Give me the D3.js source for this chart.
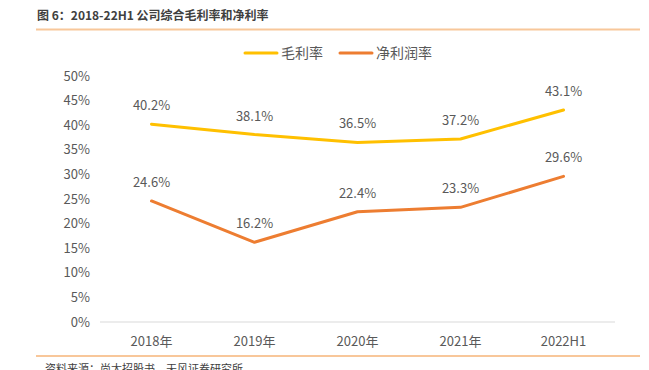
<!DOCTYPE html>
<html>
<head>
<meta charset="utf-8">
<script src="https://cdn.jsdelivr.net/npm/d3@7"></script>
<style>
  body { margin: 0; background: #fff; }
  svg { display: block; font-family: "Noto Sans CJK SC", "Noto Sans", sans-serif; }
</style>
</head>
<body>
<div class="chart"></div>
<script>
var categories = ["2018年", "2019年", "2020年", "2021年", "2022H1"];
var grossMargin = [40.2, 38.1, 36.5, 37.2, 43.1];
var netMargin = [24.6, 16.2, 22.4, 23.3, 29.6];
var yTicks = [0, 5, 10, 15, 20, 25, 30, 35, 40, 45, 50];
var seriesNames = ["毛利率", "净利润率"];

var width = 649, height = 370;
var colors = ["#FFC000", "#ED7D31"];

var svg = d3.select(".chart").append("svg")
    .attr("width", width)
    .attr("height", height);

// title and rules
svg.append("text")
    .attr("x", 37).attr("y", 20)
    .attr("font-size", 12).attr("font-weight", "bold")
    .attr("fill", "#404040")
    .text("图 6：2018-22H1 公司综合毛利率和净利率");

svg.append("line")
    .attr("x1", 36).attr("x2", 640).attr("y1", 29.5).attr("y2", 29.5)
    .attr("stroke", "#F8C79A").attr("stroke-width", 2);

svg.append("line")
    .attr("x1", 36).attr("x2", 640).attr("y1", 356).attr("y2", 356)
    .attr("stroke", "#F8C79A").attr("stroke-width", 2);

svg.append("text")
    .attr("x", 45).attr("y", 373)
    .attr("font-size", 11).attr("fill", "#404040")
    .text("资料来源：尚太招股书，天风证券研究所");

var x = d3.scaleBand().domain(categories).range([100, 615]);
var y = d3.scaleLinear().domain([0, 50]).range([322, 76]);

// y tick labels
svg.append("g").selectAll("text")
    .data(yTicks)
    .enter().append("text")
    .attr("x", 90)
    .attr("y", function(d) { return y(d); })
    .attr("dy", "0.35em")
    .attr("text-anchor", "end")
    .attr("font-size", 13)
    .attr("fill", "#595959")
    .text(function(d) { return d + "%"; });

// baseline
svg.append("line")
    .attr("x1", 100).attr("x2", 615)
    .attr("y1", y(0)).attr("y2", y(0))
    .attr("stroke", "#D9D9D9").attr("stroke-width", 1);

// x labels
svg.append("g").selectAll("text")
    .data(categories)
    .enter().append("text")
    .attr("x", function(d) { return x(d) + x.bandwidth() / 2; })
    .attr("y", 346)
    .attr("text-anchor", "middle")
    .attr("font-size", 13)
    .attr("fill", "#595959")
    .text(function(d) { return d; });

var line = d3.line()
    .x(function(d, i) { return x(categories[i]) + x.bandwidth() / 2; })
    .y(function(d) { return y(d); });

[grossMargin, netMargin].forEach(function(values, s) {
    svg.append("path")
        .datum(values)
        .attr("d", line)
        .attr("fill", "none")
        .attr("stroke", colors[s])
        .attr("stroke-width", 3)
        .attr("stroke-linecap", "round")
        .attr("stroke-linejoin", "round");

    svg.append("g").selectAll("text")
        .data(values)
        .enter().append("text")
        .attr("x", function(d, i) { return x(categories[i]) + x.bandwidth() / 2; })
        .attr("y", function(d) { return y(d) - 14; })
        .attr("text-anchor", "middle")
        .attr("font-size", 13)
        .attr("fill", "#595959")
        .text(function(d) { return d.toFixed(1) + "%"; });
});

// legend
var legendX = [245, 340];
seriesNames.forEach(function(name, s) {
    svg.append("line")
        .attr("x1", legendX[s]).attr("x2", legendX[s] + 32)
        .attr("y1", 53).attr("y2", 53)
        .attr("stroke", colors[s]).attr("stroke-width", 3)
        .attr("stroke-linecap", "round");
    svg.append("text")
        .attr("x", legendX[s] + 36).attr("y", 53)
        .attr("dy", "0.35em")
        .attr("font-size", 14)
        .attr("fill", "#595959")
        .text(name);
});
</script>
</body>
</html>
